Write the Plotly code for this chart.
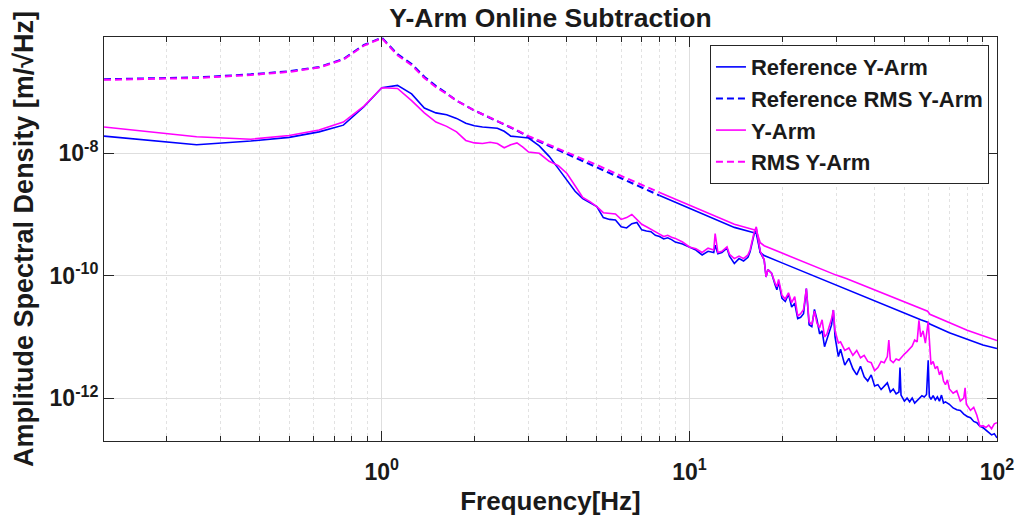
import plotly.graph_objects as go

# ---------------- data (values are log10 of ASD) ----------------
freq_ref = [0.125, 0.25, 0.375, 0.5, 0.625, 0.75, 0.875, 1.0, 1.125, 1.25, 1.375, 1.5, 1.625, 1.75,
            1.875, 2.0, 2.125, 2.25, 2.375, 2.5, 2.625, 2.75, 2.875, 3.0, 3.25, 3.5, 3.75, 4.0, 4.25,
            4.5, 4.75, 5.0, 5.25, 5.5, 5.75, 6.0, 6.25, 6.5, 6.75, 7.0, 7.25, 7.5, 7.75, 8.0, 8.25,
            8.5, 8.75, 9.0, 9.5, 10.0, 10.5, 11.0, 11.5, 12.0, 12.125, 12.375, 12.75, 13.25, 13.5,
            14.0, 14.5, 15.0, 15.5, 15.75, 16.25, 16.5, 16.75, 17.0, 17.5, 17.75, 18.0, 18.5, 19.0,
            19.25, 19.5, 20.0, 20.5, 21.0, 21.5, 22.0, 22.5, 23.0, 23.5, 24.0, 24.5, 25.0, 25.5,
            26.0, 26.5, 27.0, 27.5, 28.0, 29.0, 29.375, 29.75, 30.5, 31.0, 32.0, 33.0, 34.0, 35.0,
            36.0, 37.0, 38.0, 39.0, 40.0, 41.0, 42.0, 43.0, 44.0, 45.0, 46.0, 47.0, 48.0, 48.375,
            48.75, 50.0, 51.0, 52.0, 53.0, 54.0, 55.0, 56.0, 57.0, 58.0, 59.0, 59.75, 60.25, 61.0,
            62.0, 63.0, 64.0, 65.0, 66.0, 67.0, 68.0, 70.0, 72.0, 74.0, 76.0, 78.0, 80.0, 82.0,
            84.0, 86.0, 88.0, 90.0, 92.0, 94.0, 96.0, 98.0, 100.0]
log_asd_ref = [-7.72, -7.86, -7.80, -7.74, -7.65, -7.54, -7.24, -6.93, -6.89, -7.03, -7.26, -7.34,
               -7.37, -7.43, -7.51, -7.55, -7.57, -7.58, -7.59, -7.64, -7.72, -7.73, -7.74, -7.75,
               -7.88, -8.05, -8.25, -8.44, -8.62, -8.74, -8.80, -8.87, -9.05, -9.08, -9.09, -9.20,
               -9.22, -9.15, -9.13, -9.25, -9.27, -9.28, -9.34, -9.36, -9.40, -9.38, -9.41, -9.45,
               -9.48, -9.53, -9.58, -9.66, -9.60, -9.62, -9.50, -9.64, -9.62, -9.55, -9.68, -9.80,
               -9.72, -9.76, -9.70, -9.61, -9.31, -9.23, -9.45, -9.62, -9.74, -10.02, -9.90, -9.96,
               -10.15, -10.23, -10.10, -10.37, -10.42, -10.30, -10.51, -10.45, -10.70, -10.68,
               -10.62, -10.21, -10.80, -10.83, -10.55, -10.72, -10.95, -10.90, -11.16, -11.05,
               -10.80, -10.56, -11.00, -11.32, -11.20, -11.46, -11.35, -11.52, -11.62, -11.48,
               -11.65, -11.72, -11.62, -11.80, -11.78, -11.86, -11.80, -11.75, -11.90, -11.85,
               -11.93, -11.90, -11.50, -11.95, -12.05, -12.00, -12.06, -12.00, -12.08, -12.04,
               -12.00, -11.96, -11.98, -11.94, -11.38, -11.97, -12.02, -11.96, -12.03, -11.98,
               -12.05, -11.95, -12.08, -12.06, -12.10, -12.16, -12.19, -12.20, -12.26, -12.30,
               -12.32, -12.38, -12.40, -12.46, -12.48, -12.52, -12.55, -12.60, -12.58, -12.65]

freq_yarm = [0.125, 0.25, 0.375, 0.5, 0.625, 0.75, 0.875, 1.0, 1.125, 1.25, 1.375, 1.5, 1.625, 1.75,
             1.875, 2.0, 2.125, 2.25, 2.375, 2.5, 2.625, 2.75, 2.875, 3.0, 3.25, 3.5, 3.75, 4.0, 4.25,
             4.5, 4.75, 5.0, 5.25, 5.5, 5.75, 6.0, 6.25, 6.5, 6.75, 7.0, 7.25, 7.5, 7.75, 8.0, 8.25,
             8.5, 8.75, 9.0, 9.5, 10.0, 10.5, 11.0, 11.5, 12.0, 12.125, 12.375, 12.75, 13.25, 13.5,
             14.0, 14.5, 15.0, 15.5, 15.75, 16.25, 16.5, 16.75, 17.0, 17.5, 17.75, 18.0, 18.5, 19.0,
             19.25, 19.5, 20.0, 20.5, 21.0, 21.5, 22.0, 22.5, 23.0, 23.5, 24.0, 24.5, 25.0, 25.5,
             26.0, 26.5, 27.0, 27.5, 28.0, 29.0, 29.375, 29.75, 30.5, 31.0, 32.0, 33.0, 34.0, 35.0,
             36.0, 37.0, 38.0, 39.0, 40.0, 41.0, 42.0, 43.0, 44.0, 44.5, 45.0, 46.0, 47.0, 48.0,
             49.0, 50.0, 51.0, 52.0, 53.0, 54.0, 55.0, 55.75, 56.5, 57.5, 58.5, 59.75, 60.5, 61.0,
             62.0, 63.0, 64.0, 65.0, 66.0, 67.0, 68.0, 69.0, 70.0, 72.0, 74.0, 76.0, 78.0, 78.75,
             79.5, 82.0, 84.0, 86.0, 88.0, 90.0, 92.0, 94.0, 96.0, 98.0, 100.0]
log_asd_yarm = [-7.57, -7.73, -7.77, -7.71, -7.62, -7.49, -7.23, -6.93, -6.94, -7.14, -7.34, -7.49,
                -7.56, -7.65, -7.79, -7.83, -7.84, -7.82, -7.84, -7.91, -7.86, -7.83, -7.90, -7.98,
                -8.00, -8.13, -8.20, -8.33, -8.53, -8.72, -8.79, -8.87, -8.97, -8.98, -8.99, -9.08,
                -9.05, -9.00, -9.08, -9.16, -9.20, -9.24, -9.27, -9.32, -9.36, -9.34, -9.37, -9.39,
                -9.45, -9.53, -9.56, -9.62, -9.55, -9.58, -9.31, -9.62, -9.60, -9.53, -9.65, -9.72,
                -9.68, -9.72, -9.66, -9.58, -9.28, -9.20, -9.42, -9.60, -9.74, -10.02, -9.90, -9.96,
                -10.12, -10.18, -10.06, -10.32, -10.38, -10.28, -10.44, -10.34, -10.66, -10.62,
                -10.55, -10.21, -10.75, -10.80, -10.58, -10.78, -10.85, -10.72, -11.00, -10.95,
                -10.70, -10.56, -10.90, -11.10, -11.08, -11.22, -11.18, -11.30, -11.22, -11.34,
                -11.30, -11.40, -11.42, -11.55, -11.50, -11.40, -11.42, -11.32, -11.05, -11.38,
                -11.42, -11.36, -11.38, -11.32, -11.28, -11.24, -11.20, -11.15, -11.05, -11.08,
                -10.73, -11.00, -10.90, -11.10, -10.75, -11.25, -11.45, -11.40, -11.52, -11.48,
                -11.62, -11.55, -11.72, -11.78, -11.70, -11.85, -11.92, -11.88, -12.05, -12.00,
                -11.83, -12.10, -12.20, -12.15, -12.28, -12.46, -12.45, -12.48, -12.44, -12.50,
                -12.42, -12.40]

freq_rms = [0.125, 0.25, 0.375, 0.5, 0.625, 0.75, 0.875, 1.0, 1.125, 1.25, 1.375, 1.5, 1.625, 1.75,
            2.0, 2.25, 2.5, 2.75, 3.0, 3.5, 4.0, 4.5, 5.0, 6.0, 7.0, 8.0, 9.0, 10.0, 12.0, 14.0,
            16.0, 16.5, 17.0, 17.5, 20.0, 25.0, 30.0, 32.5, 40.0, 50.0, 56.5, 59.5, 60.5, 70.0,
            80.0, 90.0, 100.0]
log_rms_ref = [-6.79, -6.76, -6.71, -6.66, -6.59, -6.46, -6.23, -6.11, -6.38, -6.54, -6.75, -6.90,
               -7.02, -7.14, -7.30, -7.42, -7.52, -7.63, -7.73, -7.88, -8.01, -8.13, -8.23, -8.41,
               -8.56, -8.69, -8.80, -8.90, -9.07, -9.21, -9.29, -9.31, -9.62, -9.67, -9.79, -9.99,
               -10.16, -10.23, -10.42, -10.61, -10.72, -10.76, -10.79, -10.93, -11.04, -11.13, -11.19]
log_rms_yarm = [-6.80, -6.77, -6.72, -6.67, -6.60, -6.47, -6.24, -6.12, -6.40, -6.56, -6.77, -6.92,
                -7.03, -7.14, -7.30, -7.42, -7.52, -7.62, -7.72, -7.86, -7.98, -8.09, -8.19, -8.37,
                -8.51, -8.64, -8.75, -8.85, -9.02, -9.16, -9.24, -9.26, -9.46, -9.51, -9.63, -9.83,
                -9.99, -10.05, -10.23, -10.42, -10.53, -10.58, -10.63, -10.77, -10.89, -10.98, -11.06]

RMS_DASH_END = 8.0   # beyond this the dense RMS points render as a solid line in the reference

x_ticks = [1, 10, 100]
x_ticktext = ["10<sup>0</sup>", "10<sup>1</sup>", "10<sup>2</sup>"]
x_minor = [m * d for d in (0.1, 1, 10) for m in range(2, 10)]
y_ticks = [1e-12, 1e-10, 1e-8]
y_ticktext = ["10<sup>-12</sup>", "10<sup>-10</sup>", "10<sup>-8</sup>"]

BLUE = "#0000FF"
MAGENTA = "#FF00FF"
FONT = "Liberation Sans, Arial, Helvetica, sans-serif"
INK = "#1a1a1a"
AXC = "#262626"
X_RANGE = [-0.9031, 2.0]
Y_RANGE = [-12.70, -6.10]


def lin(vals):
    return [10 ** v for v in vals]


def split(freqs, vals, end, low):
    pairs = [(f, v) for f, v in zip(freqs, vals) if (f <= end if low else f >= end)]
    return [p[0] for p in pairs], lin([p[1] for p in pairs])


fig = go.Figure()

# invisible helpers so the top and right tick-only axes are drawn
fig.add_trace(go.Scatter(x=freq_ref, y=lin(log_asd_ref), xaxis="x2", yaxis="y", mode="lines",
                         opacity=0, showlegend=False, hoverinfo="skip"))
fig.add_trace(go.Scatter(x=freq_ref, y=lin(log_asd_ref), xaxis="x", yaxis="y2", mode="lines",
                         opacity=0, showlegend=False, hoverinfo="skip"))

fig.add_trace(go.Scatter(x=freq_ref, y=lin(log_asd_ref), mode="lines", name="Reference Y-Arm",
                         line=dict(color=BLUE, width=1.6)))
fx, fy = split(freq_rms, log_rms_ref, RMS_DASH_END, True)
fig.add_trace(go.Scatter(x=fx, y=fy, mode="lines", name="Reference RMS Y-Arm",
                         line=dict(color=BLUE, width=2, dash="7px,4px")))
fx, fy = split(freq_rms, log_rms_ref, RMS_DASH_END, False)
fig.add_trace(go.Scatter(x=fx, y=fy, mode="lines", showlegend=False,
                         line=dict(color=BLUE, width=1.6)))

fig.add_trace(go.Scatter(x=freq_yarm, y=lin(log_asd_yarm), mode="lines", name="Y-Arm",
                         line=dict(color=MAGENTA, width=1.6)))
fx, fy = split(freq_rms, log_rms_yarm, RMS_DASH_END, True)
fig.add_trace(go.Scatter(x=fx, y=fy, mode="lines", name="RMS Y-Arm",
                         line=dict(color=MAGENTA, width=2, dash="7px,4px")))
fx, fy = split(freq_rms, log_rms_yarm, RMS_DASH_END, False)
fig.add_trace(go.Scatter(x=fx, y=fy, mode="lines", showlegend=False,
                         line=dict(color=MAGENTA, width=1.6)))

fig.update_layout(
    width=1019, height=516,
    margin=dict(l=104, r=22, t=37, b=75),
    paper_bgcolor="white", plot_bgcolor="white",
    font=dict(family=FONT, color=INK, weight="bold"),
    title=dict(text="Y-Arm Online Subtraction", x=0.5, xref="paper", xanchor="center",
               y=0.965, yref="container", yanchor="middle",
               font=dict(size=26.5, family=FONT, color=INK, weight="bold")),
    showlegend=True,
    legend=dict(x=0.991, y=0.98, xanchor="right", yanchor="top",
                bgcolor="white", bordercolor=AXC, borderwidth=1,
                font=dict(size=22, family=FONT, color=INK, weight="bold"),
                itemwidth=30, tracegroupgap=0),
    xaxis=dict(
        type="log", range=X_RANGE,
        tickmode="array", tickvals=x_ticks, ticktext=x_ticktext,
        tickfont=dict(size=23, family=FONT, color=INK, weight="bold"),
        ticklabelstandoff=10,
        ticks="inside", ticklen=10, tickcolor=AXC, tickwidth=1,
        showline=True, linecolor=AXC, linewidth=1, mirror=True,
        showgrid=True, gridcolor="#dedede", gridwidth=1,
        minor=dict(tickmode="array", tickvals=x_minor, ticks="inside", ticklen=5,
                   tickcolor=AXC, showgrid=True, gridcolor="#e2e2e2", griddash="dot", gridwidth=1),
        title=dict(text="Frequency[Hz]", font=dict(size=26, family=FONT, color=INK, weight="bold"),
                   standoff=9),
        zeroline=False, automargin=False,
    ),
    # top frame ticks (MATLAB draws the tick marks on the upper edge too)
    xaxis2=dict(type="log", range=X_RANGE, overlaying="x", side="top", anchor="y",
                tickmode="array", tickvals=x_ticks, showticklabels=False,
                ticks="inside", ticklen=10, tickcolor=AXC, showgrid=False, zeroline=False,
                showline=False, automargin=False,
                minor=dict(tickmode="array", tickvals=x_minor, ticks="inside", ticklen=5,
                           tickcolor=AXC, showgrid=False)),
    yaxis=dict(
        type="log", range=Y_RANGE,
        tickmode="array", tickvals=y_ticks, ticktext=y_ticktext,
        tickfont=dict(size=23, family=FONT, color=INK, weight="bold"),
        ticks="inside", ticklen=10, tickcolor=AXC, tickwidth=1,
        showline=True, linecolor=AXC, linewidth=1, mirror=True,
        showgrid=True, gridcolor="#dedede", gridwidth=1,
        title=dict(text="Amplitude Spectral Density [m/√Hz]",
                   font=dict(size=27, family=FONT, color=INK, weight="bold"), standoff=8),
        zeroline=False, automargin=False,
    ),
    # right frame ticks
    yaxis2=dict(type="log", range=Y_RANGE, overlaying="y", side="right", anchor="x",
                tickmode="array", tickvals=y_ticks, showticklabels=False,
                ticks="inside", ticklen=10, tickcolor=AXC, showgrid=False, zeroline=False,
                showline=False, automargin=False),
)

fig.write_html("out.html")
